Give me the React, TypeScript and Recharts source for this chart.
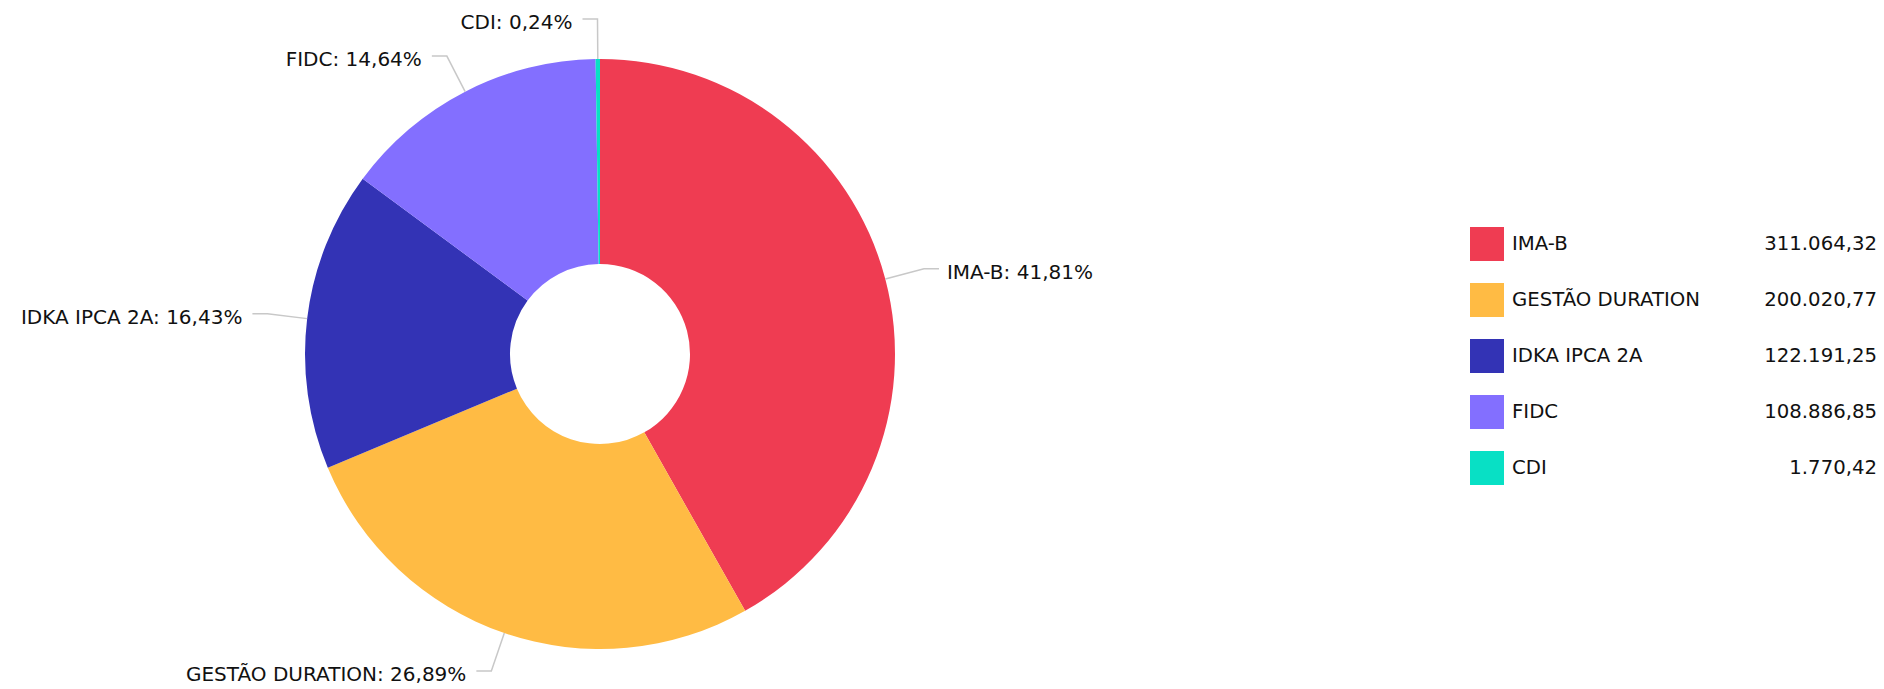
import { PieChart, Pie, Cell, Legend } from "recharts";

const categories = ["IMA-B", "GESTÃO DURATION", "IDKA IPCA 2A", "FIDC", "CDI"];
const amounts = [311064.32, 200020.77, 122191.25, 108886.85, 1770.42];
const colors = ["#EF3C52", "#FFBB44", "#3333B5", "#836FFF", "#08E0C5"];

const data = categories.map((name, i) => ({ name, value: amounts[i] }));

const FONT = "'DejaVu Sans', Verdana, sans-serif";
const RADIAN = Math.PI / 180;

const fmtPct = (p: number) => (p * 100).toFixed(2).replace(".", ",");
const fmtMoney = (v: number) =>
  v.toLocaleString("pt-BR", { minimumFractionDigits: 2, maximumFractionDigits: 2 });

const renderLabel = (props: any) => {
  const { cx, cy, midAngle, outerRadius, percent, name } = props;
  const cos = Math.cos(-midAngle * RADIAN);
  const sin = Math.sin(-midAngle * RADIAN);
  const sx = cx + outerRadius * cos;
  const sy = cy + outerRadius * sin;
  const mx = cx + (outerRadius + 40) * cos;
  const my = cy + (outerRadius + 40) * sin;
  const right = cos >= 0;
  const ex = mx + (right ? 15 : -15);
  return (
    <g>
      <polyline
        points={`${sx},${sy} ${mx},${my} ${ex},${my}`}
        fill="none"
        stroke="#c8c8c8"
        strokeWidth={1.5}
      />
      <text
        x={ex + (right ? 8 : -10)}
        y={my + 3}
        textAnchor={right ? "start" : "end"}
        dominantBaseline="central"
        fill="#111"
        fontSize={20}
        fontFamily={FONT}
      >
        {`${name}: ${fmtPct(percent)}%`}
      </text>
    </g>
  );
};

const LegendList = () => (
  <div style={{ fontFamily: FONT, fontSize: 19.7, color: "#111" }}>
    {data.map((d, i) => (
      <div key={d.name} style={{ position: "relative", height: 56 }}>
        <div style={{ width: 34, height: 34, background: colors[i] }} />
        <div style={{ position: "absolute", left: 42, top: 17, transform: "translateY(-50%)", lineHeight: "24px", whiteSpace: "nowrap" }}>
          {d.name}
        </div>
        <div style={{ position: "absolute", right: 0, top: 17, transform: "translateY(-50%)", lineHeight: "24px", whiteSpace: "nowrap" }}>
          {fmtMoney(d.value)}
        </div>
      </div>
    ))}
  </div>
);

export default function App() {
  return (
    <div style={{ position: "relative", width: 1884, height: 689, background: "#fff" }}>
      <style>{`body{margin:0;background:#fff}`}</style>
      <PieChart width={1884} height={689} margin={{ top: 0, right: 0, bottom: 0, left: 0 }}>
        <Pie
          data={data}
          dataKey="value"
          nameKey="name"
          cx={600}
          cy={354}
          innerRadius={90}
          outerRadius={295}
          startAngle={90}
          endAngle={-270}
          stroke="none"
          label={renderLabel}
          labelLine={false}
          isAnimationActive={false}
        >
          {data.map((d, i) => (
            <Cell key={d.name} fill={colors[i]} />
          ))}
        </Pie>
        <Legend
          content={<LegendList />}
          wrapperStyle={{ position: "absolute", left: 1470, top: 227, width: 407, bottom: "auto", right: "auto" }}
        />
      </PieChart>
    </div>
  );
}
